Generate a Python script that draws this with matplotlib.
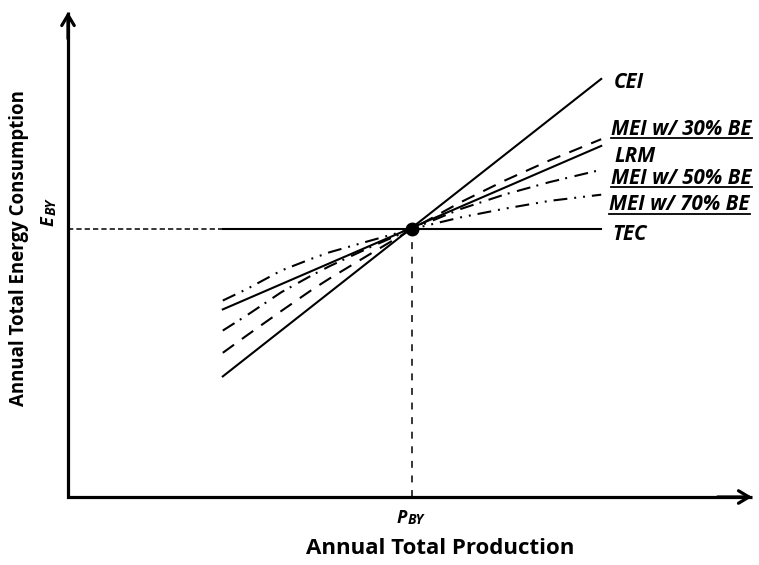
import matplotlib
matplotlib.use('Agg')
import matplotlib.pyplot as plt
from matplotlib.lines import Line2D

plt.rcParams['font.family'] = ['Open Sans', 'DejaVu Sans']
plt.rcParams['lines.scale_dashes'] = False

# ---- data (normalised: production / P_BY, energy / E_BY) ----
p_by = 1.0
e_by = 1.0
line_x = [0.45, 1.55]
cei_y = [0.45, 1.56]
lrm_y = [0.70, 1.31]
tec_y = [1.0, 1.0]
mei_x = [0.45, 0.52, 0.62, 0.71, 0.76, 0.88, 1.0, 1.14, 1.27, 1.40, 1.55]
mei30_y = [0.538, 0.603, 0.694, 0.774, 0.815, 0.908, 1.0, 1.099, 1.181, 1.256, 1.335]
mei50_y = [0.621, 0.678, 0.764, 0.828, 0.861, 0.933, 1.0, 1.074, 1.129, 1.175, 1.221]
mei70_y = [0.733, 0.776, 0.845, 0.890, 0.913, 0.957, 1.0, 1.043, 1.076, 1.105, 1.128]
series_labels = ['CEI', 'MEI w/ 30% BE', 'LRM', 'MEI w/ 50% BE', 'MEI w/ 70% BE', 'TEC']
underlined = [False, True, False, True, True, False]
x_title = 'Annual Total Production'
y_title = 'Annual Total Energy Consumption'

# ---- layout (pixel geometry of reference) ----
W, H = 759, 565
OX, OY = 68, 497          # pixel position of the origin
SX, SY = 344, 268         # pixels per unit


def d(px, py):
    return ((px - OX) / SX, (OY - py) / SY)


fig = plt.figure(figsize=(W / 100, H / 100), dpi=100)
ax = fig.add_axes([0, 0, 1, 1])
ax.set_xlim(-OX / SX, (W - OX) / SX)
ax.set_ylim((OY - H) / SY, OY / SY)
ax.axis('off')

x_tip = d(752, OY)[0]
y_tip = d(OX, 12)[1]

# axes with arrows
ax.plot([0, 0, x_tip], [y_tip, 0, 0], color='black', lw=2.3,
        solid_joinstyle='miter', solid_capstyle='butt', zorder=5)
for xy, xyt in [((x_tip, 0), (x_tip - 0.1, 0)), ((0, y_tip), (0, y_tip - 0.1))]:
    ax.annotate('', xy=xy, xytext=xyt,
                arrowprops=dict(arrowstyle='->,head_length=0.75,head_width=0.45',
                                lw=2.3, color='black', shrinkA=0, shrinkB=0,
                                mutation_scale=10), zorder=6)

# reference dashed lines
ax.plot([0, p_by], [e_by, e_by], color='black', lw=1.1, dashes=(3.8, 2.2), zorder=2)
ax.plot([p_by, p_by], [0, e_by], color='black', lw=1.1, dashes=(5, 5.5), zorder=2)

lw = 1.5
ax.plot(line_x, cei_y, color='black', lw=lw, zorder=3)
ax.plot(line_x, lrm_y, color='black', lw=lw, zorder=3)
ax.plot(line_x, tec_y, color='black', lw=lw, zorder=3)
ax.plot(mei_x, mei30_y, color='black', lw=lw, dashes=(10, 7), zorder=3)
ax.plot(mei_x, mei50_y, color='black', lw=lw, dashes=(10, 4.5, 1.4, 5.5), zorder=3)
ax.plot(mei_x, mei70_y, color='black', lw=lw, dashes=(10, 5, 1.4, 5, 1.4, 5), zorder=3)

ax.plot([p_by], [e_by], 'o', color='black', ms=9, zorder=7)

# series labels
bi = dict(fontweight='bold', style='italic')
label_px = [(614, 88), (611, 135), (614, 162), (611, 183.5), (609, 210.5), (612, 240)]
texts = []
for lab, (px, py) in zip(series_labels, label_px):
    t = ax.text(*d(px, py), lab, fontsize=14.8, ha='left', va='baseline', **bi)
    texts.append(t)

# E_BY (rotated) : main letter + smaller, slightly lowered subscript
ax.annotate('E', xy=d(54, 226), xytext=(0, 0), textcoords='offset points',
            fontsize=13, rotation=90, ha='left', va='baseline',
            rotation_mode='anchor', **bi)
ax.annotate('BY', xy=d(54, 226), xytext=(1.3, 7.6), textcoords='offset points',
            fontsize=10, rotation=90, ha='left', va='baseline',
            rotation_mode='anchor', **bi)
# P_BY
ax.annotate('P', xy=d(397, 523), xytext=(0, 0), textcoords='offset points',
            fontsize=13, ha='left', va='baseline', **bi)
ax.annotate('BY', xy=d(397, 523), xytext=(7.6, -1.0), textcoords='offset points',
            fontsize=10, ha='left', va='baseline', **bi)

# axis titles
ax.text(*d(440, 549), x_title, fontsize=16, fontweight='bold', ha='center', va='center')
ax.text(*d(19, 248), y_title, fontsize=13.4, fontweight='bold', rotation=90,
        ha='center', va='center')

# underline selected labels
fig.canvas.draw()
renderer = fig.canvas.get_renderer()
for t, u in zip(texts, underlined):
    if not u:
        continue
    bb = t.get_window_extent(renderer)
    base_y = ax.transData.transform(t.get_position())[1]
    yy = (base_y - 3) / H
    fig.add_artist(Line2D([bb.x0 / W, bb.x1 / W], [yy, yy], color='black', lw=1.3,
                          transform=fig.transFigure))

fig.savefig('out.png', dpi=100)
